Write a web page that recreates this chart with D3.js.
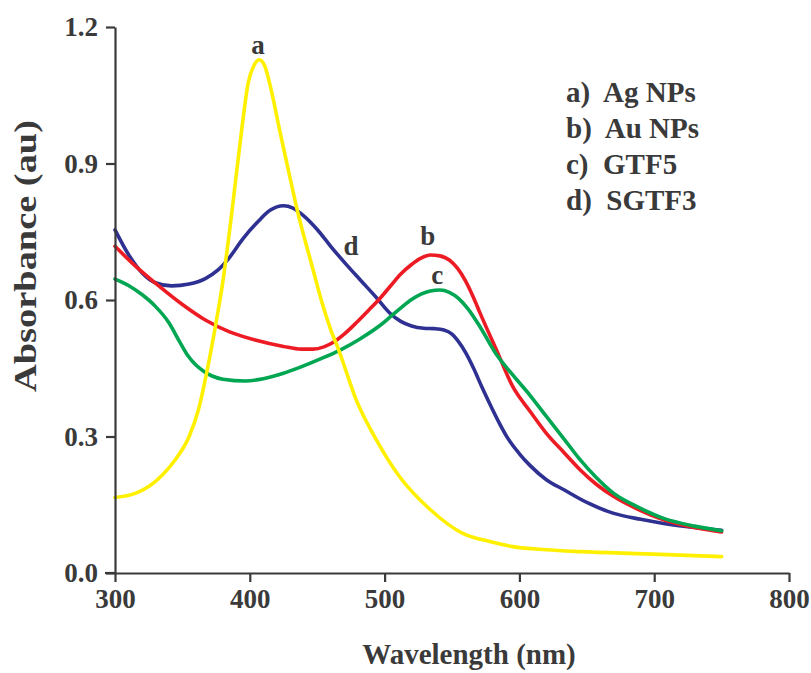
<!DOCTYPE html>
<html>
<head>
<meta charset="utf-8">
<script src="https://cdn.jsdelivr.net/npm/d3@7"></script>
<style>
  html, body { margin: 0; padding: 0; background: #fff; }
  svg { display: block; }
  text { font-family: "Liberation Serif", "Times New Roman", serif; font-weight: bold; fill: #3a3a3a; }
</style>
</head>
<body>
<svg id="chart" width="811" height="673"></svg>
<script>
// ---- data ----
const xTicks = [300, 400, 500, 600, 700, 800];
const yTicks = [0.0, 0.3, 0.6, 0.9, 1.2];

const agWave = [300,315,325,335,345,355,362,368,374,380,386,393,399,403,407,411,416,422,429,435,447,453,460,466,479,494,511,534,558,578,595,620,645,694,750];
const agAbs  = [0.166,0.175,0.19,0.215,0.25,0.30,0.36,0.44,0.534,0.64,0.776,0.95,1.08,1.115,1.128,1.115,1.06,0.975,0.88,0.80,0.666,0.60,0.535,0.49,0.38,0.292,0.212,0.139,0.087,0.069,0.058,0.051,0.047,0.042,0.036];

const auWave = [300,315,330,350,367,385,404,425,438,447,455,462,470,479,488,497,505,512,520,527,534,541,548,554,560,566,571,583,595,608,620,633,645,657,670,688,707,730,750];
const auAbs  = [0.718,0.675,0.637,0.59,0.556,0.53,0.512,0.498,0.492,0.492,0.497,0.507,0.525,0.55,0.577,0.605,0.633,0.657,0.678,0.692,0.699,0.697,0.688,0.67,0.642,0.605,0.57,0.49,0.41,0.355,0.307,0.265,0.227,0.195,0.168,0.14,0.117,0.1,0.09];

const gtfWave = [300,310,320,330,340,348,354,360,366,372,380,397,410,425,438,452,467,482,497,505,513,520,527,534,541,548,555,562,571,583,596,608,620,633,645,657,670,688,707,730,750];
const gtfAbs  = [0.646,0.632,0.612,0.586,0.55,0.508,0.478,0.457,0.443,0.433,0.426,0.422,0.427,0.439,0.453,0.47,0.49,0.515,0.545,0.565,0.585,0.601,0.613,0.62,0.622,0.617,0.603,0.58,0.54,0.48,0.432,0.39,0.344,0.295,0.249,0.21,0.175,0.145,0.12,0.103,0.093];

const sgtfWave = [300,310,320,330,342,355,367,376,384,395,406,415,425,432,440,450,460,471,482,494,504,512,520,529,537,544,550,554,560,566,572,578,585,591,600,608,620,633,650,670,690,707,730,750];
const sgtfAbs  = [0.754,0.7,0.66,0.638,0.631,0.635,0.647,0.665,0.69,0.735,0.772,0.797,0.807,0.802,0.785,0.755,0.718,0.68,0.644,0.605,0.571,0.553,0.543,0.538,0.537,0.534,0.525,0.512,0.485,0.45,0.41,0.372,0.33,0.298,0.262,0.236,0.205,0.183,0.155,0.131,0.118,0.109,0.1,0.094];

const seriesNames  = ["a", "b", "c", "d"];
const seriesColors = ["#fff000", "#ed1c24", "#00a651", "#2e3192"];
const legendLabels = ["a)  Ag NPs", "b)  Au NPs", "c)  GTF5", "d)  SGTF3"];

// curve letter annotations (wavelength, absorbance)
const annoLetters = ["a", "b", "c", "d"];
const annoWave = [406, 532, 539, 475];
const annoAbs  = [1.14, 0.72, 0.635, 0.70];

// ---- layout ----
const svg = d3.select("#chart");
const margin = { left: 115, right: 22, top: 27, bottom: 100 };
const W = 811, H = 673;

const x = d3.scaleLinear().domain([300, 800]).range([margin.left, W - margin.right]);
const y = d3.scaleLinear().domain([0, 1.2]).range([H - margin.bottom, margin.top]);

const data = [
  { name: "a", pts: agWave.map((w, i) => [w, agAbs[i]]) },
  { name: "b", pts: auWave.map((w, i) => [w, auAbs[i]]) },
  { name: "c", pts: gtfWave.map((w, i) => [w, gtfAbs[i]]) },
  { name: "d", pts: sgtfWave.map((w, i) => [w, sgtfAbs[i]]) }
];

const line = d3.line()
  .x(d => x(d[0]))
  .y(d => y(d[1]))
  .curve(d3.curveMonotoneX);

// draw order: d, b, c, a (yellow on top)
const order = ["d", "b", "c", "a"];
order.forEach(n => {
  const s = data.find(dd => dd.name === n);
  svg.append("path")
    .datum(s.pts)
    .attr("fill", "none")
    .attr("stroke", seriesColors[seriesNames.indexOf(n)])
    .attr("stroke-width", 3.6)
    .attr("stroke-linejoin", "round")
    .attr("stroke-linecap", "round")
    .attr("d", line);
});

// axes
const xAxis = d3.axisBottom(x).tickValues(xTicks).tickFormat(d3.format("d")).tickSize(9).tickPadding(7).tickSizeOuter(0);
const yAxis = d3.axisLeft(y).tickValues(yTicks).tickFormat(d3.format(".1f")).tickSize(9).tickPadding(8).tickSizeOuter(0);

const gx = svg.append("g").attr("transform", `translate(0,${y(0)})`).call(xAxis);
const gy = svg.append("g").attr("transform", `translate(${x(300)},0)`).call(yAxis);

[gx, gy].forEach(g => {
  g.select(".domain").attr("stroke", "#3a3a3a").attr("stroke-width", 2.2);
  g.selectAll(".tick line").attr("stroke", "#3a3a3a").attr("stroke-width", 2.2);
  g.selectAll(".tick text")
    .attr("fill", "#3a3a3a")
    .style("font-family", '"Liberation Serif", "Times New Roman", serif')
    .style("font-weight", "bold")
    .style("font-size", "27px");
});
gx.append("line").attr("x1", x(300) - 10).attr("x2", x(300)).attr("y1", 0).attr("y2", 0)
  .attr("stroke", "#3a3a3a").attr("stroke-width", 2.2);

// axis titles
svg.append("text")
  .attr("x", (x(300) + x(800)) / 2 + 17)
  .attr("y", 664)
  .attr("text-anchor", "middle")
  .style("font-size", "29px")
  .text("Wavelength (nm)");

svg.append("text")
  .attr("transform", `translate(36,256) rotate(-90)`)
  .attr("text-anchor", "middle")
  .style("font-size", "31px")
  .attr("textLength", 272)
  .attr("lengthAdjust", "spacingAndGlyphs")
  .text("Absorbance (au)");

// curve letters
annoLetters.forEach((t, i) => {
  svg.append("text")
    .attr("x", x(annoWave[i]))
    .attr("y", y(annoAbs[i]))
    .attr("text-anchor", "middle")
    .style("font-size", "27px")
    .text(t);
});

// legend (text only)
legendLabels.forEach((t, i) => {
  svg.append("text")
    .attr("x", 566)
    .attr("y", 102 + i * 36)
    .style("font-size", "29px")
    .attr("xml:space", "preserve")
    .style("white-space", "pre")
    .text(t);
});
</script>
</body>
</html>
